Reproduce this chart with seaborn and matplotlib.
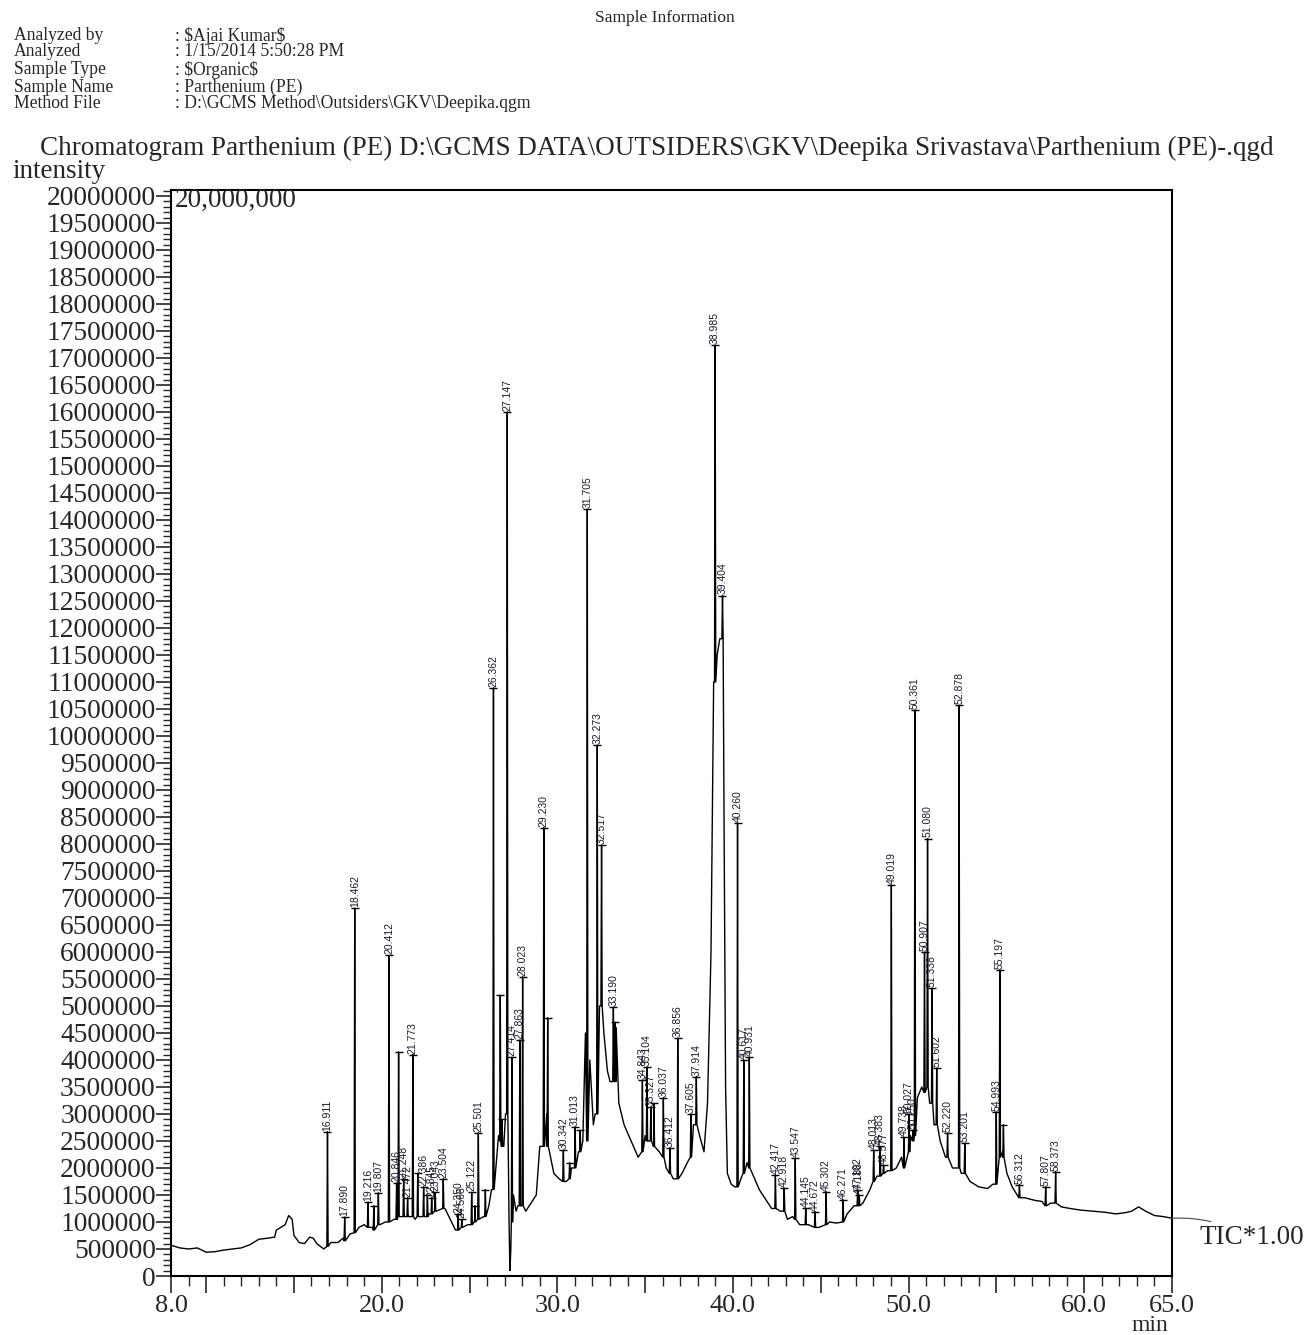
import matplotlib
matplotlib.use("Agg")
import matplotlib.pyplot as plt
import seaborn as sns
import pandas as pd

# ---------------- data ----------------
# baseline of the total ion chromatogram (time in min, intensity in millions)
base_t = [8.0, 8.5, 9.0, 9.5, 10.0, 10.5, 11.0, 11.5, 12.0, 12.5, 13.0, 13.5, 13.9, 14.0,
          14.5, 14.7, 14.9, 15.0, 15.3, 15.6, 15.9, 16.1, 16.3, 16.7, 17.1, 17.5, 17.8,
          18.2, 18.7, 19.0, 19.5, 19.9, 20.2, 20.7, 21.1, 21.5, 21.9, 22.3, 22.7, 23.1,
          23.6, 23.9, 24.2, 24.6, 24.9, 25.3, 25.8, 26.1, 26.25, 26.5, 26.65, 26.95,
          27.05, 27.25, 27.3, 27.35, 27.5, 27.65, 27.75, 28.2, 28.5, 28.8, 29.0, 29.4,
          29.55, 29.8, 30.1, 30.5, 30.8, 31.2, 31.45, 31.6, 31.85, 32.05, 32.15, 32.4,
          32.65, 32.85, 33.0, 33.35, 33.5, 33.8, 34.2, 34.6, 35.0, 35.5, 35.8, 36.2,
          36.6, 37.1, 37.4, 37.75, 38.1, 38.35, 38.55, 38.75, 38.9, 39.1, 39.25, 39.5,
          39.58, 39.68, 39.9, 40.1, 40.45, 40.8, 41.1, 41.5, 41.9, 42.2, 42.7, 43.1,
          43.4, 43.8, 44.3, 44.9, 45.5, 45.9, 46.5, 46.9, 47.4, 47.8, 48.2, 48.8, 49.3,
          49.6, 50.1, 50.5, 50.75, 51.2, 51.45, 51.8, 52.1, 52.5, 53.0, 53.5, 54.0,
          54.5, 54.8, 55.35, 55.6, 55.9, 56.6, 57.2, 57.6, 58.1, 58.7, 59.2, 59.8,
          60.5, 61.2, 61.8, 62.3, 62.7, 63.1, 63.5, 64.0, 64.5, 65.0]
base_v = [0.57, 0.52, 0.50, 0.52, 0.44, 0.45, 0.48, 0.50, 0.52, 0.58, 0.68, 0.70, 0.72, 0.85,
          0.95, 1.12, 1.05, 0.75, 0.62, 0.60, 0.72, 0.70, 0.60, 0.50, 0.62, 0.62, 0.70,
          0.78, 0.90, 0.95, 0.90, 0.95, 1.00, 1.05, 1.10, 1.15, 1.05, 1.10, 1.15, 1.20,
          1.25, 1.05, 0.85, 0.90, 0.95, 1.05, 1.10, 1.30, 1.60, 2.0, 2.6, 2.4,
          3.0, 1.0, 0.1, 0.5, 1.5, 1.2, 1.3, 1.2, 1.35, 1.5, 2.4, 3.0,
          2.3, 1.9, 1.8, 1.75, 2.0, 2.3, 2.5, 4.5, 4.0, 2.8, 3.0, 5.0,
          4.5, 3.8, 3.6, 4.6, 3.2, 2.8, 2.5, 2.2, 2.6, 2.5, 2.3, 2.0,
          1.8, 1.9, 2.1, 2.8, 2.6, 2.3, 3.2, 6.0, 11.0, 11.5, 11.8, 8.0,
          3.5, 1.9, 1.7, 1.65, 1.8, 2.1, 1.9, 1.6, 1.4, 1.25, 1.2, 1.05,
          1.1, 0.95, 0.95, 0.9, 1.0, 0.98, 1.15, 1.3, 1.35, 1.6, 1.85, 1.95, 2.0,
          2.2, 2.6, 3.3, 3.5, 3.2, 2.8, 2.5, 2.2, 2.0, 1.9, 1.75, 1.65,
          1.62, 1.70, 2.3, 1.9, 1.65, 1.45, 1.4, 1.38, 1.35, 1.28, 1.25, 1.22,
          1.2, 1.18, 1.15, 1.17, 1.2, 1.28, 1.2, 1.12, 1.1, 1.07]

# detected peaks: retention time, apex intensity, foot intensity (millions), label
peak_rt = [16.911, 17.890, 18.462, 19.216, 19.55, 19.807, 20.412, 20.846, 20.96, 21.248,
           21.472, 21.773, 22.05, 22.386, 22.6, 22.845, 23.043, 23.504, 24.350, 24.566,
           25.122, 25.3, 25.501, 25.9, 26.362, 26.75, 26.85, 27.147, 27.414, 27.863,
           28.023, 29.230, 29.45, 30.342, 30.7, 31.013, 31.3, 31.705, 32.273, 32.517,
           33.190, 33.3, 34.843, 35.104, 35.327, 35.5, 36.037, 36.412, 36.856, 37.605,
           37.914, 38.985, 39.404, 40.260, 40.617, 40.931, 42.417, 42.918, 43.547, 44.145,
           44.672, 45.302, 46.271, 47.102, 47.188, 48.013, 48.383, 48.577, 49.019, 49.738,
           50.027, 50.250, 50.361, 50.907, 51.080, 51.338, 51.602, 52.220, 52.878, 53.201,
           54.993, 55.197, 55.4, 56.312, 57.807, 58.373]
peak_h = [2.67, 1.09, 6.81, 1.37, 1.30, 1.54, 5.94, 1.72, 4.15, 1.80,
          1.45, 4.10, 1.90, 1.65, 1.50, 1.45, 1.55, 1.80, 1.15, 1.05,
          1.55, 1.30, 2.65, 1.60, 10.89, 5.20, 2.90, 16.0, 4.05, 4.37,
          5.54, 8.30, 4.78, 2.33, 2.10, 2.76, 2.70, 14.2, 9.83, 7.98,
          4.98, 4.70, 3.63, 3.87, 3.13, 3.20, 3.30, 2.37, 4.40, 3.00,
          3.69, 17.24, 12.6, 8.39, 4.00, 4.05, 1.87, 1.63, 2.18, 1.26,
          1.19, 1.56, 1.41, 1.59, 1.50, 2.33, 2.40, 2.05, 7.24, 2.57,
          3.00, 2.70, 10.48, 6.00, 8.10, 5.33, 3.85, 2.65, 10.57, 2.46,
          3.04, 5.67, 2.80, 1.69, 1.65, 1.93]
peak_foot = [0.55, 0.65, 0.80, 0.90, 0.85, 0.95, 1.00, 1.05, 1.10, 1.10,
             1.10, 1.10, 1.10, 1.10, 1.10, 1.15, 1.20, 1.25, 0.85, 0.90,
             0.95, 1.00, 1.05, 1.10, 1.60, 2.50, 2.40, 3.00, 1.00, 1.30,
             1.30, 2.40, 2.40, 1.75, 1.80, 2.00, 2.30, 2.50, 3.00, 5.00,
             3.60, 3.60, 2.30, 2.50, 2.50, 2.40, 2.20, 1.90, 1.80, 2.20,
             2.80, 11.0, 11.8, 1.65, 1.90, 2.00, 1.25, 1.20, 1.05, 0.95,
             0.90, 0.95, 1.00, 1.30, 1.30, 1.75, 1.85, 1.90, 1.95, 2.00,
             2.30, 2.50, 2.60, 3.40, 3.50, 3.20, 2.80, 2.20, 2.00, 1.90,
             1.70, 2.20, 2.20, 1.45, 1.30, 1.35]
peak_label = ["16.911", "17.890", "18.462", "19.216", "", "19.807", "20.412", "20.846", "", "21.248",
              "21.472", "21.773", "", "22.386", "", "22.845", "23.043", "23.504", "24.350", "24.566",
              "25.122", "", "25.501", "", "26.362", "", "", "27.147", "27.414", "27.863",
              "28.023", "29.230", "", "30.342", "", "31.013", "", "31.705", "32.273", "32.517",
              "33.190", "", "34.843", "35.104", "35.327", "", "36.037", "36.412", "36.856", "37.605",
              "37.914", "38.985", "39.404", "40.260", "40.617", "40.931", "42.417", "42.918", "43.547", "44.145",
              "44.672", "45.302", "46.271", "47.102", "47.188", "48.013", "48.383", "48.577", "49.019", "49.738",
              "50.027", "50.250", "50.361", "50.907", "51.080", "51.338", "51.602", "52.220", "52.878", "53.201",
              "54.993", "55.197", "", "56.312", "57.807", "58.373"]

xtick_vals = [8, 10, 15, 20, 25, 30, 35, 40, 45, 50, 55, 60, 65]
xtick_text = ["8.0", "", "", "20.0", "", "30.0", "", "40.0", "", "50.0", "", "60.0", "65.0"]

info_keys = ["Analyzed by", "Analyzed", "Sample Type", "Sample Name", "Method File"]
info_vals = [": $Ajai Kumar$", ": 1/15/2014 5:50:28 PM", ": $Organic$", ": Parthenium (PE)",
             ": D:\\GCMS Method\\Outsiders\\GKV\\Deepika.qgm"]
title = ("Chromatogram Parthenium (PE) D:\\GCMS DATA\\OUTSIDERS\\GKV\\Deepika Srivastava"
         "\\Parthenium (PE)-.qgd")

# ---------------- build trace ----------------
M = 1e6
half_w = 0.035
pts = [(t, v * M) for t, v in zip(base_t, base_v)]
for t, h, f in zip(peak_rt, peak_h, peak_foot):
    pts += [(t - half_w, f * M), (t, h * M), (t + half_w, f * M)]
pts.sort(key=lambda p: p[0])
trace = pd.DataFrame(pts, columns=["time", "intensity"])

# ---------------- figure ----------------
sns.set_style("ticks")
plt.rcParams["font.family"] = ["Liberation Serif", "DejaVu Serif"]
plt.rcParams["text.parse_math"] = False

W, H = 1309, 1335
fig = plt.figure(figsize=(W / 100, H / 100), dpi=100)
ax = fig.add_axes([171 / W, 59 / H, (1172 - 171) / W, (1276 - 190) / H])

sns.lineplot(data=trace, x="time", y="intensity", ax=ax, color="black", lw=1.0,
             sort=False, estimator=None)

# apex markers and labels
ax.scatter(peak_rt, [h * M for h in peak_h], marker="_", s=30, color="black", lw=1.0, zorder=3)
for t, h, lab in zip(peak_rt, peak_h, peak_label):
    if lab:
        ax.text(t, h * M + 0.02 * M, lab, rotation=90, ha="center", va="bottom",
                fontsize=7.5, color="#1a1a2a",
                family=["Liberation Sans", "DejaVu Sans"])

ax.set_xlim(8, 65)
ax.set_ylim(0, 20.11 * M)
ax.set_xticks(xtick_vals)
ax.set_xticklabels(xtick_text)
ax.set_xticks([x for x in range(9, 65)], minor=True)
yt = [i * 500000 for i in range(41)]
ax.set_yticks(yt)
ax.set_yticklabels([str(v) for v in yt])
ax.set_yticks([i * 100000 for i in range(202)], minor=True)
ax.tick_params(axis="y", which="major", length=11, width=1.2, labelsize=19.8, pad=0)
ax.tick_params(axis="y", which="minor", length=6, width=1.0)
ax.tick_params(axis="x", which="major", length=12, width=1.2, labelsize=19, pad=2)
ax.tick_params(axis="x", which="minor", length=7, width=1.0)
ax.set_xlabel("")
ax.set_ylabel("")
for s in ax.spines.values():
    s.set_visible(True)
    s.set_linewidth(1.5)
    s.set_color("black")

# texts
fig.text(665 / W, 1 - 18 / H, "Sample Information", ha="center", va="center", fontsize=12.5)
info_y = [36, 52, 70, 87, 104]
for k, v, y in zip(info_keys, info_vals, info_y):
    fig.text(14 / W, 1 - y / H, k, ha="left", va="center", fontsize=12.7)
    fig.text(175 / W, 1 - y / H, v, ha="left", va="center", fontsize=12.7)
fig.text(40 / W, 1 - 148 / H, title, ha="left", va="center", fontsize=19.5)
fig.text(12 / W, 1 - 172 / H, "intensity", ha="left", va="center", fontsize=19.5)
fig.text(175 / W, 1 - 200 / H, "20,000,000", ha="left", va="center", fontsize=19.5)
fig.text(1150 / W, 1 - 1331 / H, "min", ha="center", va="baseline", fontsize=17)

ax.annotate("TIC*1.00", xy=(65, base_v[-1] * M), xycoords="data",
            xytext=(1199, H - 1238), textcoords="figure pixels",
            ha="left", va="center", fontsize=19.5, annotation_clip=False,
            arrowprops=dict(arrowstyle="-", color="0.35", lw=0.9, shrinkA=2, shrinkB=0,
                            connectionstyle="arc3,rad=0.15"))

fig.savefig("out.png", dpi=100)
